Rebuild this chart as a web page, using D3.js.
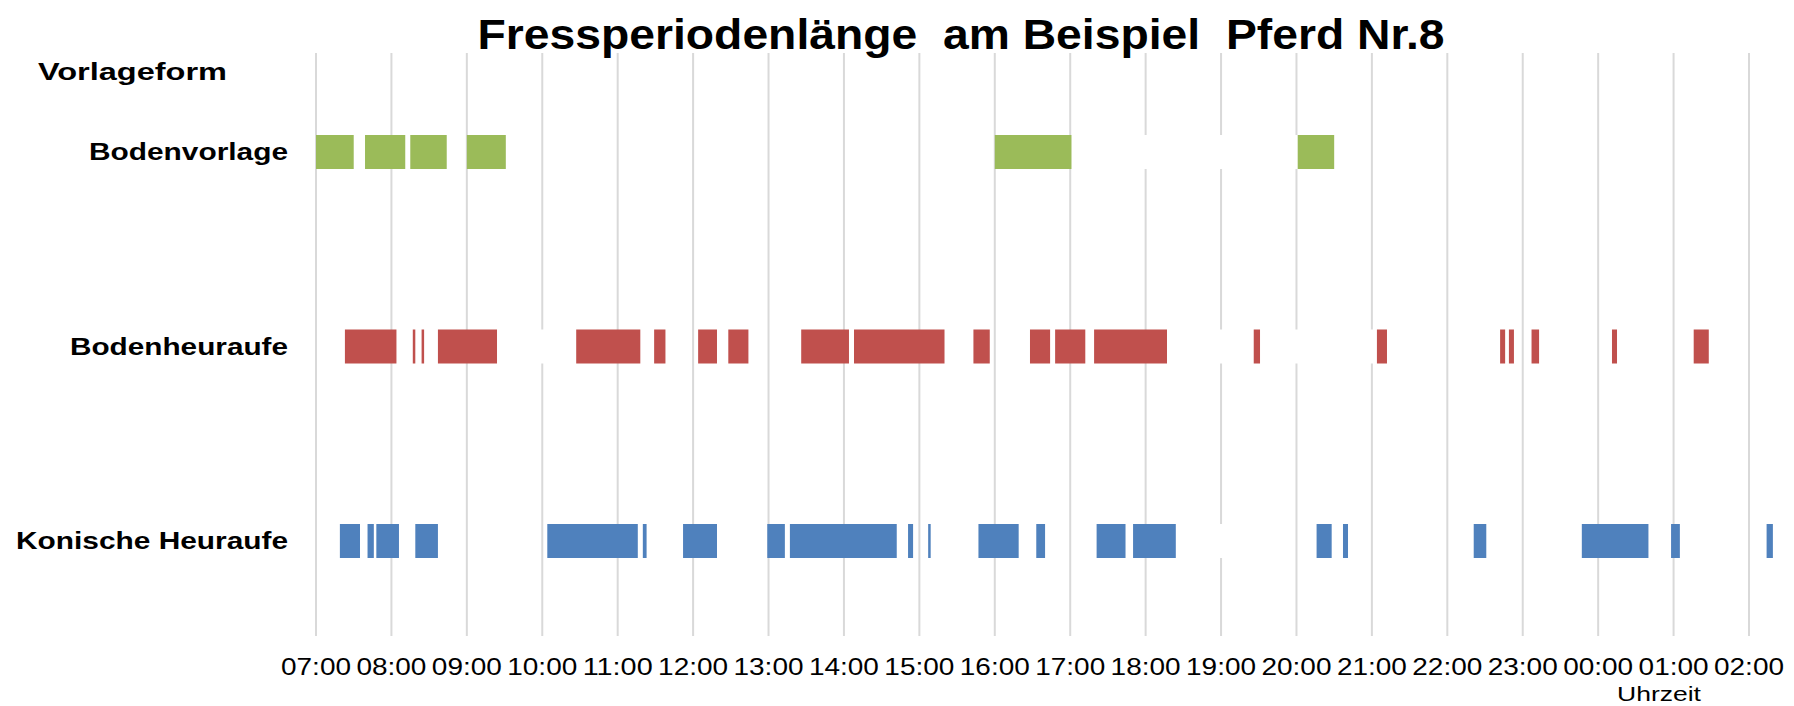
<!DOCTYPE html>
<html><head><meta charset="utf-8">
<script src="https://cdn.jsdelivr.net/npm/d3@7"></script>
<style>html,body{margin:0;padding:0;background:#fff;}svg{display:block;}</style>
</head><body>
<svg id="chart" width="1794" height="706"></svg>
<script>
const title = "Fressperiodenlänge  am Beispiel  Pferd Nr.8";
const axisTitle = "Vorlageform";
const xAxisTitle = "Uhrzeit";
const categories = ["Bodenvorlage", "Bodenheuraufe", "Konische Heuraufe"];
const tickLabels = ["07:00","08:00","09:00","10:00","11:00","12:00","13:00","14:00","15:00","16:00","17:00","18:00","19:00","20:00","21:00","22:00","23:00","00:00","01:00","02:00"];
const colors = ["#9BBB59", "#C0504D", "#4F81BD"];

// feeding periods [start, end]
const bodenvorlage = [
  ["07:00","07:30"],["07:39","08:11"],["08:15","08:44"],["09:00","09:31"],
  ["16:00","17:01"],["20:01","20:30"]
];
const bodenheuraufe = [
  ["07:23","08:04"],["08:17","08:19"],["08:24","08:26"],["08:37","09:24"],
  ["10:27","11:18"],["11:29","11:38"],["12:04","12:19"],["12:28","12:44"],
  ["13:26","14:04"],["14:08","15:20"],["15:43","15:56"],["16:28","16:44"],
  ["16:48","17:12"],["17:19","18:17"],["19:26","19:31"],["21:04","21:12"],
  ["22:42","22:46"],["22:49","22:53"],["23:07","23:13"],["00:11","00:15"],
  ["01:16","01:28"]
];
const konischeHeuraufe = [
  ["07:19","07:35"],["07:41","07:46"],["07:48","08:06"],["08:19","08:37"],
  ["10:04","11:16"],["11:20","11:23"],["11:52","12:19"],["12:59","13:13"],
  ["13:17","14:42"],["14:51","14:55"],["15:07","15:09"],["15:47","16:19"],
  ["16:33","16:40"],["17:21","17:44"],["17:50","18:24"],["20:16","20:28"],
  ["20:37","20:41"],["22:21","22:31"],["23:47","00:40"],["00:58","01:05"],
  ["02:14","02:19"]
];
// white-filled pause segments (hide the gridlines behind them)
const pausesWhite = [
  [["17:01","20:01"]],
  [["09:24","10:27"],["18:17","19:26"],["19:31","21:04"]],
  [["18:24","19:45"]]
];
const seriesData = [bodenvorlage, bodenheuraufe, konischeHeuraufe];

function toHours(s){
  const [h,m] = s.split(":").map(Number);
  let v = h + m/60;
  if (v < 7) v += 24;
  return v;
}

const svg = d3.select("#chart");
const x = d3.scaleLinear().domain([toHours(tickLabels[0]), toHours(tickLabels[tickLabels.length-1])]).range([316, 1749]);
const y = d3.scalePoint().domain(categories).range([152, 541]);
const barH = 34;
const gridTop = 53, gridBottom = 636;

// gridlines
svg.append("g").selectAll("line").data(tickLabels).join("line")
  .attr("x1", d => x(toHours(d))).attr("x2", d => x(toHours(d)))
  .attr("y1", gridTop).attr("y2", gridBottom)
  .attr("stroke", "#D9D9D9").attr("stroke-width", 2);

// white pause segments
categories.forEach((c, i) => {
  svg.append("g").selectAll("rect").data(pausesWhite[i]).join("rect")
    .attr("x", d => x(toHours(d[0])))
    .attr("width", d => x(toHours(d[1])) - x(toHours(d[0])))
    .attr("y", y(c) - barH/2).attr("height", barH)
    .attr("fill", "#fff");
});

// bars
categories.forEach((c, i) => {
  svg.append("g").selectAll("rect").data(seriesData[i]).join("rect")
    .attr("x", d => x(toHours(d[0])))
    .attr("width", d => Math.max(1, x(toHours(d[1])) - x(toHours(d[0]))))
    .attr("y", y(c) - barH/2).attr("height", barH)
    .attr("fill", colors[i]);
});

// title
svg.append("text").attr("x", 961).attr("y", 49)
  .attr("text-anchor", "middle")
  .attr("font-family", "Liberation Sans, Arial, sans-serif")
  .attr("font-weight", "bold").attr("font-size", 42)
  .attr("textLength", 967).attr("lengthAdjust", "spacingAndGlyphs")
  .attr("xml:space", "preserve")
  .style("white-space", "pre")
  .text(title);

// category axis title
svg.append("text").attr("x", 38).attr("y", 80)
  .attr("font-family", "Liberation Sans, Arial, sans-serif")
  .attr("font-weight", "bold").attr("font-size", 23)
  .attr("textLength", 189).attr("lengthAdjust", "spacingAndGlyphs")
  .text(axisTitle);

// category labels
const labelWidths = [199, 218, 272];
svg.append("g").selectAll("text").data(categories).join("text")
  .attr("x", 288).attr("y", d => y(d) + 8)
  .attr("text-anchor", "end")
  .attr("font-family", "Liberation Sans, Arial, sans-serif")
  .attr("font-weight", "bold").attr("font-size", 23)
  .attr("textLength", (d, i) => labelWidths[i]).attr("lengthAdjust", "spacingAndGlyphs")
  .text(d => d);

// tick labels
svg.append("g").selectAll("text").data(tickLabels).join("text")
  .attr("x", d => x(toHours(d))).attr("y", 675)
  .attr("text-anchor", "middle")
  .attr("font-family", "Liberation Sans, Arial, sans-serif")
  .attr("font-size", 23)
  .attr("textLength", 70).attr("lengthAdjust", "spacingAndGlyphs")
  .text(d => d);

// x axis title
svg.append("text").attr("x", 1659).attr("y", 701)
  .attr("text-anchor", "middle")
  .attr("font-family", "Liberation Sans, Arial, sans-serif")
  .attr("font-size", 20)
  .attr("textLength", 84).attr("lengthAdjust", "spacingAndGlyphs")
  .text(xAxisTitle);
</script>
</body></html>
